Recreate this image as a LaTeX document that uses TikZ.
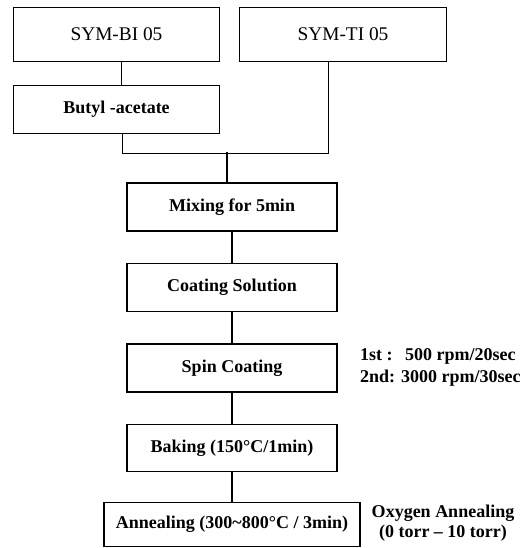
\documentclass[tikz,border=0pt]{standalone}
\usepackage{fontspec}
\setmainfont{Liberation Serif}
\usetikzlibrary{positioning}

\begin{document}
\begin{tikzpicture}[x=0.75pt,y=-0.75pt,node distance=23.5pt,line width=0.9pt,
  every node/.style={font=\fontsize{13.5}{16}\selectfont\bfseries}]
\tikzstyle{src}=[draw, minimum width=155pt, minimum height=41pt, inner sep=0pt, font=\fontsize{14.5}{17}\selectfont]
\tikzstyle{box}=[draw, minimum width=157.5pt, minimum height=36pt, inner sep=0pt]
\useasboundingbox (0,0) rectangle (529,548);
% raw materials
\node[src] (bi) at (116.5,34.5) {SYM-BI 05};
\node[src, right=14pt of bi] (ti) {SYM-TI 05};
\node[box, minimum width=155pt, below=17pt of bi] (butyl) {Butyl -acetate};
\coordinate (j) at (227,152);
% process chain
\node[box] (mix) at (232,207) {Mixing for 5min};
\node[box, below=of mix] (coat) {Coating Solution};
\node[box, below=of coat] (spin) {Spin Coating};
\node[box, minimum height=35pt, below=of spin] (bake) {Baking (150°C/1min)};
\node[box, minimum width=192pt, minimum height=33pt, below=22.5pt of bake] (anneal) {Annealing (300\textasciitilde800°C / 3min)};
% conditions
\node[anchor=west, align=left, font=\fontsize{13.5}{16.5}\selectfont\bfseries] (rpm) at (355,367) {1st :\hspace{0.7em}500 rpm/20sec\\2nd: 3000 rpm/30sec};
\node[align=center, font=\fontsize{13.5}{14.5}\selectfont\bfseries] (oxy) at (443,523) {Oxygen Annealing\\(0 torr -- 10 torr)};
% connectors
\draw ([xshift=3.5pt]bi.south) -- ([xshift=3.5pt]butyl.north);
\draw ([xshift=-11pt]ti.south) |- ([xshift=4.5pt,yshift=-14.25pt]butyl.south) -- ([xshift=4.5pt]butyl.south);
\draw (j) -- (j |- mix.north);
\draw (mix) -- (coat); \draw (coat) -- (spin); \draw (spin) -- (bake); \draw (bake) -- (anneal);
\end{tikzpicture}
\end{document}
